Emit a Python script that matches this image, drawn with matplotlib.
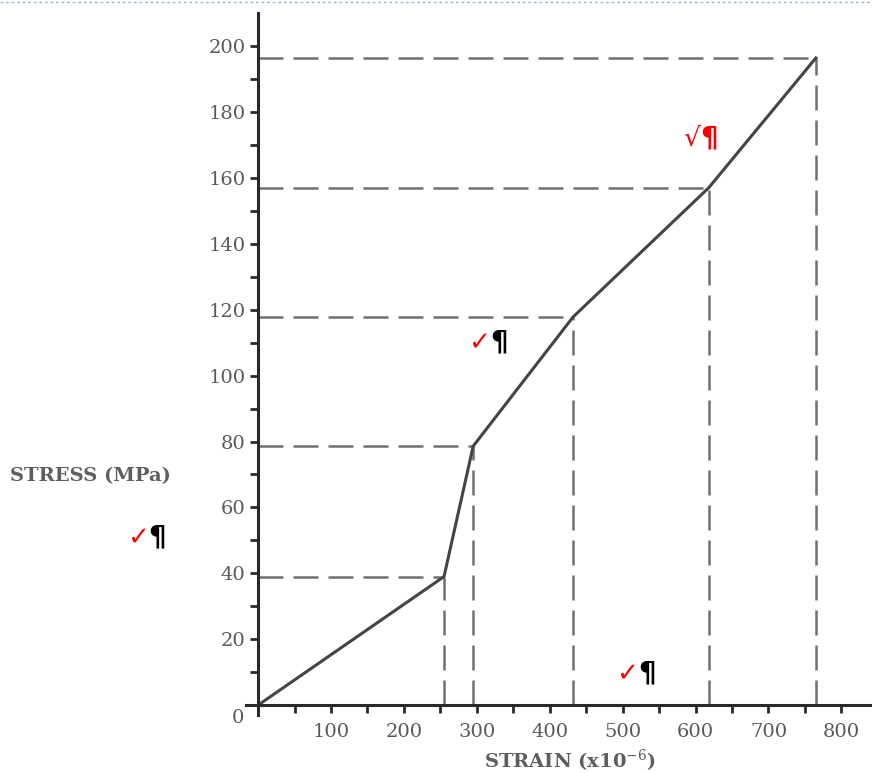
import matplotlib
matplotlib.use("Agg")
import matplotlib.pyplot as plt
from matplotlib.lines import Line2D

# strain (x10^-6) and stress (MPa) at the break points of the curve
strain = [0, 255, 295, 432, 618, 765]
stress = [0, 39, 78.6, 117.8, 157, 196.4]

x_ticks = [100, 200, 300, 400, 500, 600, 700, 800]
y_ticks = [20, 40, 60, 80, 100, 120, 140, 160, 180, 200]

# check marks left on the scanned figure: (x, y, mark, mark colour, pilcrow colour)
marks = [
    (-150, 51, "\u2713", "red", "black"),
    (318, 110, "\u2713", "red", "black"),
    (521, 9.7, "\u2713", "red", "black"),
    (606, 172, "\u221a", "red", "red"),
]

plt.rcParams["font.family"] = ["DejaVu Serif"]
plt.rcParams["mathtext.fontset"] = "dejavuserif"

fig = plt.figure(figsize=(8.72, 7.73), dpi=100)
ax = fig.add_axes([0, 0, 1, 1])
ax.set_xlim(-354, 842)
ax.set_ylim(-20.6, 214)

# axes drawn through the origin
ax.spines["left"].set_position(("data", 0))
ax.spines["bottom"].set_position(("data", 0))
ax.spines["left"].set_bounds(-3, 210)
ax.spines["bottom"].set_bounds(-16, 842)
ax.spines["top"].set_visible(False)
ax.spines["right"].set_visible(False)
for s in ("left", "bottom"):
    ax.spines[s].set_linewidth(2.2)
    ax.spines[s].set_color("#2a2a2a")

ax.set_xticks(list(range(0, 850, 50)))
ax.set_xticklabels(["" if v % 100 or v == 0 else str(v) for v in range(0, 850, 50)])
ax.set_yticks(y_ticks)
ax.set_yticks(list(range(10, 210, 20)), minor=True)
ax.tick_params(axis="both", which="both", direction="out", length=6, width=2,
               color="#2a2a2a", labelsize=14, labelcolor="#5a5a5a")
ax.tick_params(axis="x", pad=7)
ax.tick_params(axis="y", pad=3)
ax.text(-27, -4, "0", ha="center", va="center", fontsize=14, color="#5a5a5a")

# dashed guide lines
for x, y in zip(strain[1:], stress[1:]):
    ax.plot([0, x], [y, y], color="#707070", lw=1.8, ls=(0, (10, 4)))
    ax.plot([x, x], [0, y], color="#707070", lw=1.8, ls=(0, (10, 4)))

ax.plot(strain, stress, color="#444444", lw=2.2)

ax.text(-340, 69.5, "STRESS (MPa)", fontsize=14, weight="bold", color="#5e5e5e",
        va="center")
ax.text(427, -16.8, "STRAIN (x10$^{-6}$)", fontsize=14, weight="bold",
        color="#5e5e5e", ha="center", va="center")

for x, y, m, c1, c2 in marks:
    ax.text(x, y, m, color=c1, fontsize=19, family="DejaVu Sans",
            ha="right", va="center")
    ax.text(x, y, "\u00b6", color=c2, fontsize=20, family="DejaVu Sans",
            weight="bold", ha="left", va="center")

# dotted border along the top of the page
fig.add_artist(Line2D([0, 1], [0.997, 0.997], transform=fig.transFigure,
                      color="#9ab8d0", lw=1, ls=(0, (2, 2))))

fig.savefig("out.png", dpi=100)
